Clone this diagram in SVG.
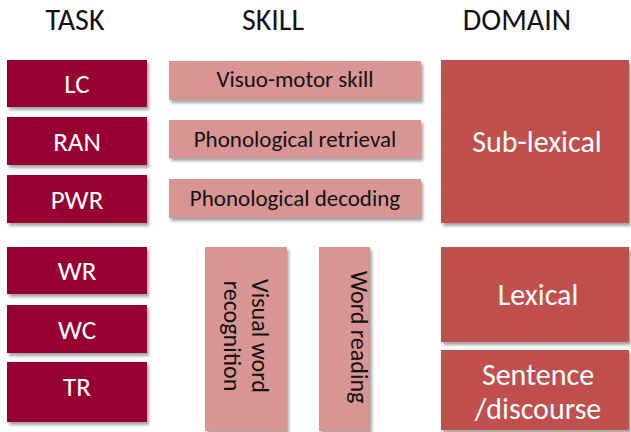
<svg xmlns="http://www.w3.org/2000/svg" width="631" height="432" viewBox="0 0 631 432">
  <style>
    .hdr { font-family: Carlito, Lato, "Open Sans", sans-serif; font-size: 30px; fill: #111; text-anchor: middle; }
    .task rect { fill: #990033; filter: url(#shadow); }
    .task text { font-family: Carlito, Lato, "Open Sans", sans-serif; font-size: 27px; fill: #fff; text-anchor: middle; }
    .skill rect { fill: #d99594; filter: url(#shadow); }
    .skill text { font-family: Carlito, Lato, "Open Sans", sans-serif; font-size: 23px; fill: #111; text-anchor: middle; }
    .skill .vert { font-size: 24px; }
    .domain rect { fill: #c0504d; filter: url(#shadow); }
    .domain text { font-family: Carlito, Lato, "Open Sans", sans-serif; font-size: 30px; fill: #fff; text-anchor: middle; }
  </style>
  <defs>
    <filter id="shadow" x="-10%" y="-10%" width="130%" height="130%">
      <feDropShadow dx="2" dy="3" stdDeviation="1.5" flood-color="#000" flood-opacity="0.35"/>
    </filter>
  </defs>
  <rect width="631" height="432" fill="#fff"/>

  <!-- column headings -->
  <g id="headers">
    <text class="hdr" x="75" y="30">TASK</text>
    <text class="hdr" x="273" y="30">SKILL</text>
    <text class="hdr" x="517" y="30">DOMAIN</text>
  </g>

  <!-- task column -->
  <g id="task-lc" class="task"><rect x="7" y="60" width="140" height="47"/><text x="77" y="93">LC</text></g>
  <g id="task-ran" class="task"><rect x="7" y="117" width="140" height="48"/><text x="77" y="151">RAN</text></g>
  <g id="task-pwr" class="task"><rect x="7" y="175" width="140" height="48"/><text x="77" y="209">PWR</text></g>
  <g id="task-wr" class="task"><rect x="7" y="247" width="140" height="47"/><text x="77" y="280">WR</text></g>
  <g id="task-wc" class="task"><rect x="7" y="305" width="140" height="48"/><text x="77" y="339">WC</text></g>
  <g id="task-tr" class="task"><rect x="7" y="362" width="140" height="60"/><text x="77" y="396">TR</text></g>

  <!-- skill column -->
  <g id="skill-visuomotor" class="skill"><rect x="169" y="61" width="252" height="39"/><text x="295" y="87">Visuo-motor skill</text></g>
  <g id="skill-retrieval" class="skill"><rect x="169" y="120" width="252" height="38"/><text x="295" y="147">Phonological retrieval</text></g>
  <g id="skill-decoding" class="skill"><rect x="169" y="179" width="252" height="39"/><text x="295" y="206">Phonological decoding</text></g>
  <g id="skill-visual-word" class="skill">
    <rect x="205" y="247" width="82" height="184"/>
    <g transform="translate(246,336) rotate(90)">
      <text class="vert" x="0" y="-6">Visual word</text>
      <text class="vert" x="0" y="22">recognition</text>
    </g>
  </g>
  <g id="skill-word-reading" class="skill">
    <rect x="319" y="247" width="51" height="184"/>
    <g transform="translate(344,337) rotate(90)">
      <text class="vert" x="0" y="-7">Word reading</text>
    </g>
  </g>

  <!-- domain column -->
  <g id="domain-sublexical" class="domain"><rect x="441" y="60" width="188" height="163"/><text x="537" y="152">Sub-lexical</text></g>
  <g id="domain-lexical" class="domain"><rect x="441" y="247" width="188" height="95"/><text x="538" y="305">Lexical</text></g>
  <g id="domain-sentence" class="domain">
    <rect x="441" y="350" width="188" height="80"/>
    <text x="538" y="385">Sentence</text>
    <text x="538" y="419">/discourse</text>
  </g>

  <g id="connectors"/>
</svg>
